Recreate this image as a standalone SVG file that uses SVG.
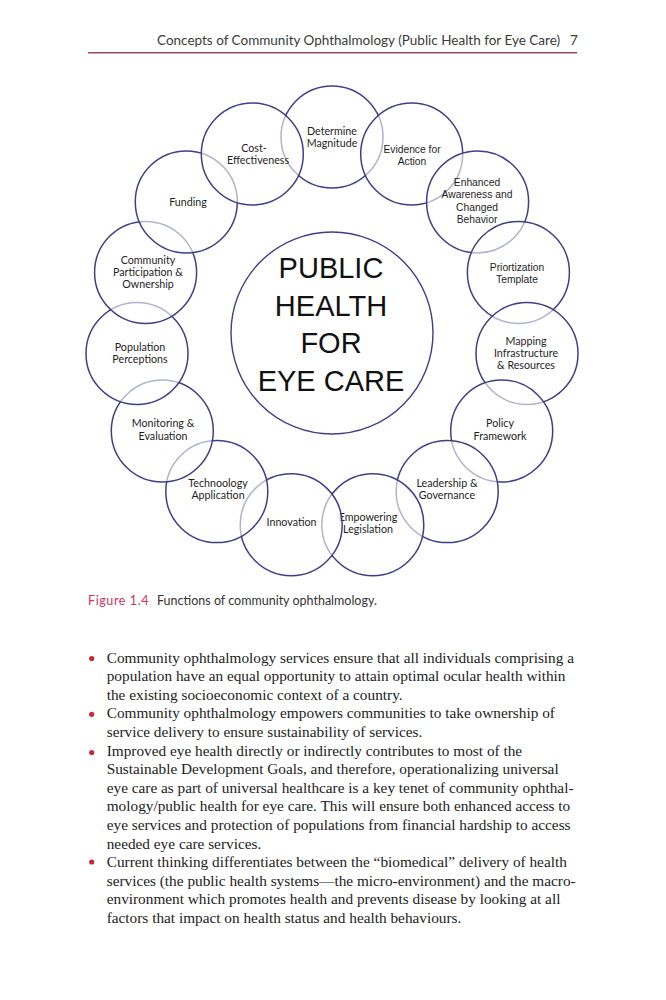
<svg xmlns="http://www.w3.org/2000/svg" width="666" height="1000" viewBox="0 0 666 1000">
<style>
.ring{fill:#ffffff;fill-opacity:0.6;stroke:#3f3f86;stroke-width:1.5}
.hub{fill:#ffffff;stroke:#3f3f86;stroke-width:1.4}
.c{font-family:Lato,"Liberation Sans",sans-serif;font-size:10.7px;fill:#1e1e1e;text-anchor:middle}
.a{font-family:"Liberation Sans",Arial,sans-serif;font-size:10.3px;fill:#1e1e1e;text-anchor:middle}
.big{font-family:"Liberation Sans",Arial,sans-serif;font-size:29px;fill:#111;text-anchor:middle}
.hdr{font-family:Lato,"Liberation Sans",sans-serif;font-size:13.5px;fill:#3a3a3a}
.cap{font-family:Lato,"Liberation Sans",sans-serif;font-size:12.5px;fill:#333}
.body{font-family:"Liberation Serif","Times New Roman",serif;font-size:15.3px;fill:#222}
.dot{fill:#c62a35}
</style>
<rect width="666" height="1000" fill="#ffffff"/>
<g id="header">
<text class="hdr" x="157" y="45">Concepts of Community Ophthalmology (Public Health for Eye Care)</text>
<text class="hdr" x="570" y="45">7</text>
<line x1="88" y1="52.7" x2="577" y2="52.7" stroke="#9a4b5e" stroke-width="1.5"/>
</g>
<g id="hub">
<circle class="hub" cx="332" cy="333" r="101"/>
<text class="big" x="331" y="278">PUBLIC</text>
<text class="big" x="331" y="316">HEALTH</text>
<text class="big" x="331" y="353">FOR</text>
<text class="big" x="331" y="390.5">EYE CARE</text>
</g>
<g id="n-determine"><circle class="ring" cx="332" cy="137" r="51"/>
<text class="c" x="332" y="135">Determine</text><text class="c" x="332" y="147">Magnitude</text></g>
<g id="n-evidence"><circle class="ring" cx="411.7" cy="154" r="51"/>
<text class="a" x="412" y="153">Evidence for</text><text class="a" x="412" y="165">Action</text></g>
<g id="n-enhanced"><circle class="ring" cx="477.6" cy="201.9" r="51"/>
<text class="a" x="477" y="186">Enhanced</text><text class="a" x="477" y="198.3">Awareness and</text><text class="a" x="477" y="210.6">Changed</text><text class="a" x="477" y="223">Behavior</text></g>
<g id="n-prior"><circle class="ring" cx="518.4" cy="272.4" r="51"/>
<text class="a" x="517" y="270.7">Priortization</text><text class="a" x="517" y="283">Template</text></g>
<g id="n-mapping"><circle class="ring" cx="527" cy="353.5" r="51"/>
<text class="c" x="526" y="344.7">Mapping</text><text class="c" x="526" y="356.7">Infrastructure</text><text class="c" x="526" y="369">&amp; Resources</text></g>
<g id="n-policy"><circle class="ring" cx="501.7" cy="431" r="51"/>
<text class="c" x="500" y="427.3">Policy</text><text class="c" x="500" y="439.7">Framework</text></g>
<g id="n-leadership"><circle class="ring" cx="447.2" cy="491.6" r="51"/>
<text class="c" x="447" y="487">Leadership &amp;</text><text class="c" x="447" y="499">Governance</text></g>
<g id="n-empowering"><circle class="ring" cx="372.8" cy="524.7" r="51"/>
<text class="c" x="368" y="520.7">Empowering</text><text class="c" x="368" y="533.3">Legislation</text></g>
<g id="n-innovation"><circle class="ring" cx="291.2" cy="524.7" r="51"/>
<text class="c" x="291.5" y="525.7">Innovation</text></g>
<g id="n-technology"><circle class="ring" cx="216.8" cy="491.6" r="51"/>
<text class="c" x="218" y="487.3">Technoology</text><text class="c" x="218" y="499">Application</text></g>
<g id="n-monitoring"><circle class="ring" cx="162.3" cy="431" r="51"/>
<text class="c" x="163" y="427.3">Monitoring &amp;</text><text class="c" x="163" y="439.7">Evaluation</text></g>
<g id="n-population"><circle class="ring" cx="137" cy="353.5" r="51"/>
<text class="c" x="140" y="350.7">Population</text><text class="c" x="140" y="363">Perceptions</text></g>
<g id="n-community"><circle class="ring" cx="145.6" cy="272.4" r="51"/>
<text class="c" x="148" y="264">Community</text><text class="c" x="148" y="276.3">Participation &amp;</text><text class="c" x="148" y="288.3">Ownership</text></g>
<g id="n-funding"><circle class="ring" cx="186.3" cy="201.9" r="51"/>
<text class="c" x="188" y="206.3">Funding</text></g>
<g id="n-cost"><circle class="ring" cx="252.3" cy="154" r="51"/>
<text class="c" x="254" y="152">Cost-</text><text class="c" x="258" y="164">Effectiveness</text></g>
<g id="connectors"></g>
<g id="caption">
<text class="cap" x="88" y="605"><tspan fill="#c8385e" letter-spacing="0.6">Figure 1.4</tspan><tspan x="157">Functions of community ophthalmology.</tspan></text>
</g>
<g id="bullets">
<circle class="dot" cx="91.7" cy="658.5" r="2.6"/>
<circle class="dot" cx="91.7" cy="714.3" r="2.6"/>
<circle class="dot" cx="91.7" cy="752.5" r="2.6"/>
<circle class="dot" cx="91.7" cy="862" r="2.6"/>
<text class="body" x="106.7" y="662.5">Community ophthalmology services ensure that all individuals comprising a</text>
<text class="body" x="106.7" y="681.2">population have an equal opportunity to attain optimal ocular health within</text>
<text class="body" x="106.7" y="699.8">the existing socioeconomic context of a country.</text>
<text class="body" x="106.7" y="718.4">Community ophthalmology empowers communities to take ownership of</text>
<text class="body" x="106.7" y="737">service delivery to ensure sustainability of services.</text>
<text class="body" x="106.7" y="755.6">Improved eye health directly or indirectly contributes to most of the</text>
<text class="body" x="106.7" y="774.2">Sustainable Development Goals, and therefore, operationalizing universal</text>
<text class="body" x="106.7" y="792.8">eye care as part of universal healthcare is a key tenet of community ophthal-</text>
<text class="body" x="106.7" y="811.4">mology/public health for eye care. This will ensure both enhanced access to</text>
<text class="body" x="106.7" y="830">eye services and protection of populations from financial hardship to access</text>
<text class="body" x="106.7" y="848.6">needed eye care services.</text>
<text class="body" x="106.7" y="867.2">Current thinking differentiates between the “biomedical” delivery of health</text>
<text class="body" x="106.7" y="885.8">services (the public health systems—the micro-environment) and the macro-</text>
<text class="body" x="106.7" y="904.4">environment which promotes health and prevents disease by looking at all</text>
<text class="body" x="106.7" y="923">factors that impact on health status and health behaviours.</text>
</g>
</svg>
